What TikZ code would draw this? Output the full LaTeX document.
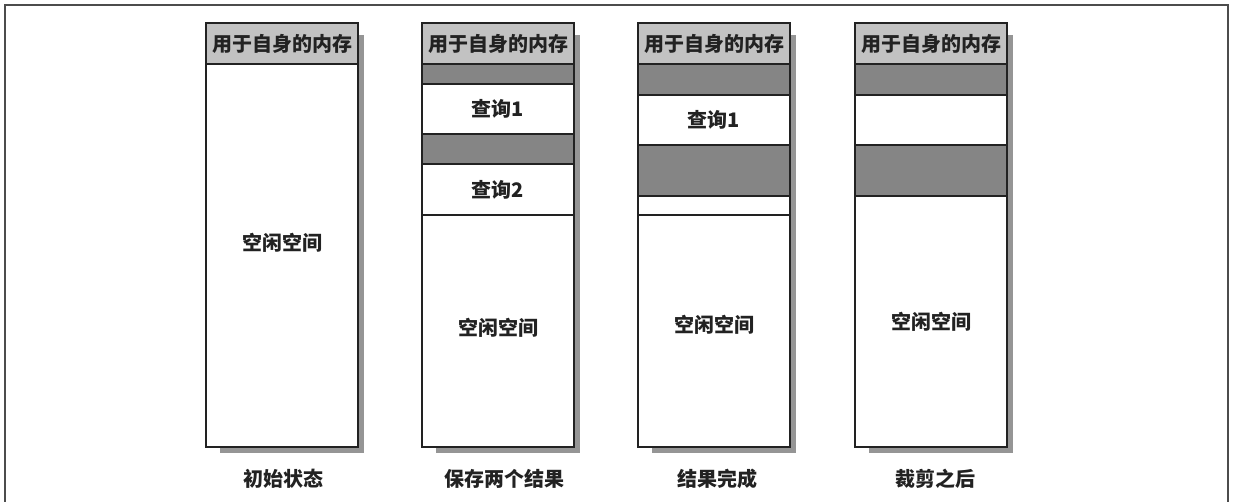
\documentclass[tikz,border=0pt]{standalone}
\usepackage{fontspec}
\newfontfamily\cjk{Noto Sans CJK SC}
\definecolor{hdrgray}{HTML}{C2C2C2}
\definecolor{darkgray2}{HTML}{858585}
\definecolor{shadowgray}{HTML}{959595}
\definecolor{ink}{HTML}{222222}
\tikzset{
  seg/.style={draw=ink, line width=1.3pt, fill=white, minimum width=152pt,
    anchor=north west, inner sep=0pt, outer sep=0pt,
    font=\cjk\bfseries\fontsize{20}{20}\selectfont, text=ink},
  hdr/.style={seg, fill=hdrgray, minimum height=41pt},
  band/.style={seg, fill=darkgray2},
  txt/.style={font=\cjk\bfseries\fontsize{20}{20}\selectfont, text=ink, inner sep=0pt},
  shadowbox/.style={fill=shadowgray},
  frame/.style={draw=black!70, line width=2pt}
}
\begin{document}
\begin{tikzpicture}[x=1pt,y=-1pt]
\useasboundingbox (0,0) rectangle (1237,502);
% outer frame
\coordinate (fa) at (5,502);
\coordinate (fb) at (5,5);
\coordinate (fc) at (1228,5);
\coordinate (fd) at (1228,502);
\draw[frame] (fa) -- (fb) -- (fc) -- (fd);
% shadows
\fill[shadowbox] (220,35) rectangle (364,453);
\fill[shadowbox] (436,35) rectangle (580,453);
\fill[shadowbox] (652,35) rectangle (796,453);
\fill[shadowbox] (869,35) rectangle (1013,453);
% column 1
\node[hdr] (h1) at (206,23) {用于自身的内存};
\node[seg, minimum height=383pt] (f1) at (206,64) {};
\node[txt] (t1) at (282,243) {空闲空间};
% column 2
\node[hdr] (h2) at (422,23) {用于自身的内存};
\node[band, minimum height=20pt] (g2a) at (422,64) {};
\node[seg, minimum height=50pt] (q2a) at (422,84) {查询1};
\node[band, minimum height=30pt] (g2b) at (422,134) {};
\node[seg, minimum height=51pt] (q2b) at (422,164) {查询2};
\node[seg, minimum height=232pt] (f2) at (422,215) {};
\node[txt] (t2) at (498,328) {空闲空间};
% column 3
\node[hdr] (h3) at (638,23) {用于自身的内存};
\node[band, minimum height=31pt] (g3a) at (638,64) {};
\node[seg, minimum height=50pt] (q3a) at (638,95) {查询1};
\node[band, minimum height=51pt] (g3b) at (638,145) {};
\node[seg, minimum height=19pt] (w3) at (638,196) {};
\node[seg, minimum height=232pt] (f3) at (638,215) {};
\node[txt] (t3) at (714,325) {空闲空间};
% column 4
\node[hdr] (h4) at (855,23) {用于自身的内存};
\node[band, minimum height=31pt] (g4a) at (855,64) {};
\node[seg, minimum height=50pt] (w4) at (855,95) {};
\node[band, minimum height=51pt] (g4b) at (855,145) {};
\node[seg, minimum height=251pt] (f4) at (855,196) {};
\node[txt] (t4) at (931,322) {空闲空间};
% captions
\node[txt] (c1) at (283,479) {初始状态};
\node[txt] (c2) at (504,479) {保存两个结果};
\node[txt] (c3) at (717,479) {结果完成};
\node[txt] (c4) at (935,479) {裁剪之后};
\end{tikzpicture}
\end{document}
